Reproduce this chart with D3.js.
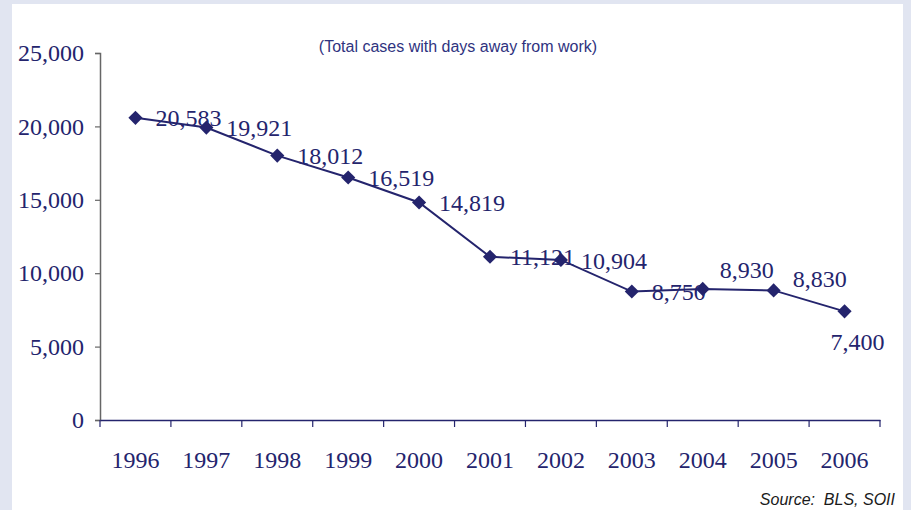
<!DOCTYPE html>
<html>
<head>
<meta charset="utf-8">
<script src="https://cdn.jsdelivr.net/npm/d3@7"></script>
<style>
  html, body { margin: 0; padding: 0; background: #e1e5f1; }
  svg { display: block; }
</style>
</head>
<body>
<div id="chart"></div>
<script>
// data
const years = ['1996', '1997', '1998', '1999', '2000', '2001', '2002', '2003', '2004', '2005', '2006'];
const cases = [20583, 19921, 18012, 16519, 14819, 11121, 10904, 8750, 8930, 8830, 7400];
const yTicks = [0, 5000, 10000, 15000, 20000, 25000];
const subtitle = '(Total cases with days away from work)';
const source = 'Source:  BLS, SOII';

// label nudges (Excel labels were dragged by hand on a few points)
const labelNudge = [
  [20, 0], [20, 0], [20, 0], [20, 0], [20, 0], [20, 0],
  [20, 0], [20, 0], [17, -20], [19, -12], [-14, 30]
];

const width = 911;
const height = 510;
const navy = '#24246d';
const serif = '"Liberation Serif", "Times New Roman", serif';

const svg = d3.select('#chart')
  .append('svg')
  .attr('width', width)
  .attr('height', height);

// white panel on the grey-blue frame
svg.append('rect')
  .attr('x', 12).attr('y', 4)
  .attr('width', 891).attr('height', height)
  .attr('fill', '#fff');

const x = d3.scaleBand()
  .domain(years)
  .range([100, 880])
  .padding(0);

const y = d3.scaleLinear()
  .domain([0, 25000])
  .range([420, 53]);

// y axis
const yAxis = svg.append('g')
  .attr('transform', 'translate(100,0)')
  .call(d3.axisLeft(y).tickValues(yTicks).tickSize(5).tickPadding(11).tickFormat(d3.format(',')));
yAxis.select('.domain').attr('stroke', '#666').attr('stroke-width', 1.5);
yAxis.selectAll('.tick line').attr('stroke', '#666').attr('stroke-width', 1.2);
yAxis.selectAll('text')
  .attr('fill', navy)
  .style('font-family', serif)
  .style('font-size', '24px');

// x axis: labels in band centres, tick marks on the band edges
const xAxis = svg.append('g')
  .attr('transform', 'translate(0,420)')
  .call(d3.axisBottom(x).tickSize(0).tickPadding(31));
xAxis.select('.domain').attr('stroke', navy).attr('stroke-width', 1.5);
xAxis.selectAll('text')
  .attr('fill', navy)
  .style('font-family', serif)
  .style('font-size', '24px');

xAxis.selectAll('.edge')
  .data(years.map((d) => x(d)).concat([x.range()[1]]))
  .join('line')
  .attr('class', 'edge')
  .attr('x1', (d) => d).attr('x2', (d) => d)
  .attr('y1', 0).attr('y2', 7)
  .attr('stroke', navy)
  .attr('stroke-width', 1.2);

const cx = (i) => x(years[i]) + x.bandwidth() / 2;

// line
const line = d3.line()
  .x((d, i) => cx(i))
  .y((d) => y(d));

svg.append('path')
  .datum(cases)
  .attr('fill', 'none')
  .attr('stroke', navy)
  .attr('stroke-width', 2)
  .attr('d', line);

// diamond markers
svg.append('g')
  .selectAll('path')
  .data(cases)
  .join('path')
  .attr('d', d3.symbol(d3.symbolSquare, 100))
  .attr('transform', (d, i) => `translate(${cx(i)},${y(d)}) rotate(45)`)
  .attr('fill', navy);

// value labels
svg.append('g')
  .selectAll('text')
  .data(cases)
  .join('text')
  .attr('x', (d, i) => cx(i) + labelNudge[i][0])
  .attr('y', (d, i) => y(d) + labelNudge[i][1])
  .attr('dy', '0.36em')
  .attr('fill', navy)
  .style('font-family', serif)
  .style('font-size', '24px')
  .text((d) => d3.format(',')(d));

// subtitle
svg.append('text')
  .attr('x', 458)
  .attr('y', 52)
  .attr('text-anchor', 'middle')
  .attr('fill', '#2f3380')
  .style('font-family', '"Liberation Sans", Arial, sans-serif')
  .style('font-size', '16px')
  .text(subtitle);

// source note
svg.append('text')
  .attr('x', 895)
  .attr('y', 505)
  .attr('text-anchor', 'end')
  .attr('fill', '#1a1a1a')
  .style('font-family', '"Liberation Sans", Arial, sans-serif')
  .style('font-size', '16px')
  .style('font-style', 'italic')
  .style('white-space', 'pre')
  .text(source);
</script>
</body>
</html>
